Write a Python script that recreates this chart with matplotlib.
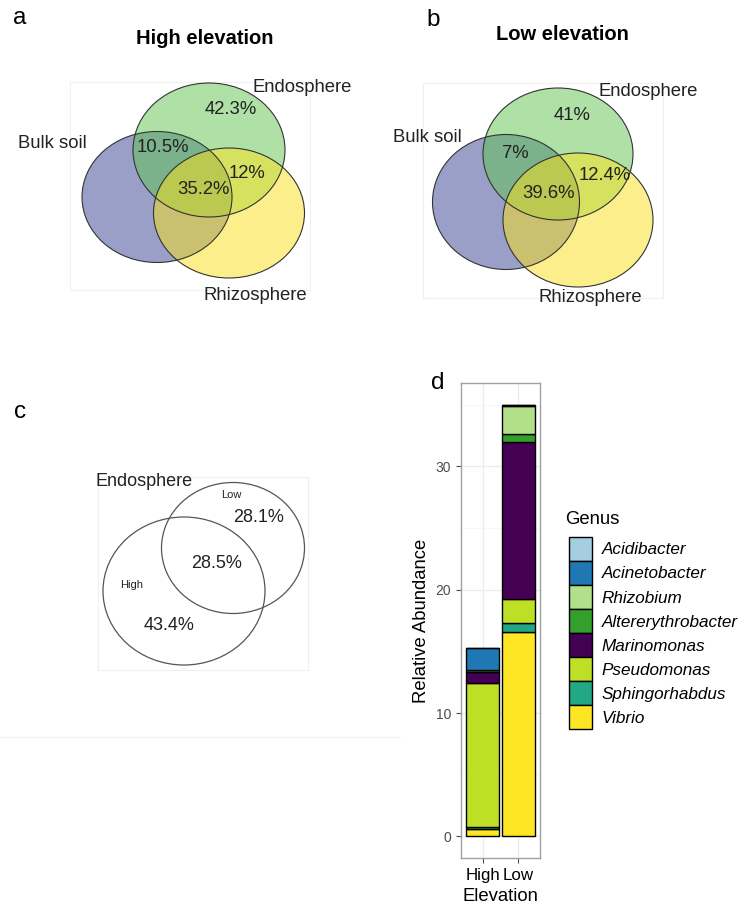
import matplotlib.pyplot as plt
from matplotlib.patches import Ellipse, Rectangle, Patch
from matplotlib.colors import to_rgba

plt.rcParams['font.family'] = ['Liberation Sans', 'DejaVu Sans']

# ---- venn data (a, b) ----
venn_sets = ['Bulk soil', 'Endosphere', 'Rhizosphere']
venn_colors = ['#354191', '#61c551', '#fbe119']
# order: endosphere only, bulk∩endo, endo∩rhizo, all three
high_pct = ['42.3%', '10.5%', '12%', '35.2%']
low_pct = ['41%', '7%', '12.4%', '39.6%']

# ---- venn data (c) ----
endo_groups = ['High', 'Low']
endo_pct = ['43.4%', '28.5%', '28.1%']  # high only, shared, low only

# ---- bar data (d) ----
elevation = ['High', 'Low']
genus = ['Acidibacter', 'Acinetobacter', 'Rhizobium', 'Altererythrobacter',
         'Marinomonas', 'Pseudomonas', 'Sphingorhabdus', 'Vibrio']
genus_colors = ['#a6cee3', '#1f78b4', '#b2df8a', '#33a02c',
                '#440154', '#bddf26', '#22a884', '#fde725']
abund_high = [0.0, 1.8, 0.0, 0.15, 0.85, 11.65, 0.2, 0.6]
abund_low = [0.04, 0.06, 2.26, 0.68, 12.75, 1.95, 0.7, 16.56]

fig = plt.figure(figsize=(7.49, 9.11), dpi=100)

# canvas axes in pixel coordinates for the venn panels
cv = fig.add_axes([0, 0, 1, 1])
cv.set_xlim(0, 749)
cv.set_ylim(911, 0)
cv.axis('off')


def venn3(centers, sizes, pcts, pct_xy, lab_xy, title, title_xy, box):
    cv.add_patch(Rectangle((box[0], box[1]), box[2], box[3], fill=False,
                           edgecolor='#f0f0f0', lw=0.8))
    for (cx, cy), (w, h), col in zip(centers, sizes, venn_colors):
        cv.add_patch(Ellipse((cx, cy), w, h, facecolor=to_rgba(col, 0.5),
                             edgecolor='none'))
    for (cx, cy), (w, h) in zip(centers, sizes):
        cv.add_patch(Ellipse((cx, cy), w, h, fill=False,
                             edgecolor='#333333', lw=0.8))
    for p, (x, y) in zip(pcts, pct_xy):
        cv.text(x, y, p, fontsize=13.3, ha='center', va='center', color='#222222')
    for s, (x, y) in zip(venn_sets, lab_xy):
        cv.text(x, y, s, fontsize=13.3, ha='center', va='center', color='#222222')
    cv.text(title_xy[0], title_xy[1], title, fontsize=14.5, fontweight='bold',
            ha='center', va='center')


# panel a
venn3([(157, 197), (209, 150), (229, 213)],
      [(150, 131), (152, 134), (151, 130)],
      high_pct,
      [(231, 110), (163, 147), (247, 173), (203, 189)],
      [(52, 143), (302, 87), (255, 295)],
      'High elevation', (205, 38), (70, 82, 240, 208))

# panel b
venn3([(506, 202), (558, 154), (578, 220)],
      [(147, 135), (150, 132), (150, 134)],
      low_pct,
      [(572, 115), (515, 153), (605, 175), (548, 193)],
      [(427, 137), (648, 92), (590, 298)],
      'Low elevation', (562, 35), (423, 83, 240, 215))

# panel c
cv.add_patch(Rectangle((98, 477), 210, 193, fill=False, edgecolor='#f0f0f0', lw=0.8))
cv.add_patch(Ellipse((184, 591), 162, 148, fill=False, edgecolor='#555555', lw=0.9))
cv.add_patch(Ellipse((233, 548), 143, 131, fill=False, edgecolor='#555555', lw=0.9))
cv.text(144, 481, 'Endosphere', fontsize=13, ha='center', va='center', color='#222222')
cv.text(132, 585, endo_groups[0], fontsize=8, ha='center', va='center', color='#222222')
cv.text(231, 495, endo_groups[1], fontsize=8, ha='center', va='center', color='#222222')
for p, (x, y) in zip(endo_pct, [(169, 625), (217, 563), (259, 517)]):
    cv.text(x, y, p, fontsize=13, ha='center', va='center', color='#222222')
cv.plot([0, 400], [737, 737], color='#f2f2f2', lw=0.8)

# panel letters
for lab, (x, y) in zip(['a', 'b', 'c', 'd'], [(20, 18), (433, 20), (20, 412), (438, 383)]):
    cv.text(x, y, lab, fontsize=17.5, ha='center', va='center')

# ---- panel d: stacked bars ----
ax = fig.add_axes([461 / 749, 53 / 911, 79 / 749, 475 / 911])
bottoms = [0.0, 0.0]
for g, c, vh, vl in reversed(list(zip(genus, genus_colors, abund_high, abund_low))):
    vals = [vh, vl]
    ax.bar([0, 1], vals, width=0.9, bottom=bottoms, color=c, edgecolor='black',
           linewidth=1.0, zorder=3)
    bottoms = [b + v for b, v in zip(bottoms, vals)]

ax.set_xlim(-0.6, 1.6)
ax.set_ylim(-1.75, 36.75)
ax.set_xticks([0, 1])
ax.set_xticklabels(elevation, fontsize=12.2)
ax.set_yticks([0, 10, 20, 30])
ax.set_yticks([5, 15, 25, 35], minor=True)
ax.tick_params(axis='y', labelsize=10, labelcolor='#4d4d4d', color='#4d4d4d', length=3.5)
ax.tick_params(axis='y', which='minor', length=0)
ax.tick_params(axis='x', color='#4d4d4d', length=3.5, pad=3.5)
ax.grid(True, which='major', color='#ebebeb', lw=0.9, zorder=0)
ax.grid(True, which='minor', axis='y', color='#f4f4f4', lw=0.5, zorder=0)
ax.set_axisbelow(True)
for s in ax.spines.values():
    s.set_color('#a0a0a0')
    s.set_linewidth(1.0)
ax.set_xlabel('Elevation', fontsize=13.3, labelpad=4)
ax.set_ylabel('Relative Abundance', fontsize=13.3, labelpad=4)

# legend for genus
fig.text(565 / 749, 1 - 519 / 911, 'Genus', fontsize=13.3, ha='left', va='center')
handles = [Patch(facecolor=c, edgecolor='black', linewidth=1.0) for c in genus_colors]
leg = fig.legend(handles, genus, loc='upper left', bbox_to_anchor=(569 / 749, 1 - 537 / 911),
                 frameon=False, fontsize=12.3,
                 handlelength=1.35, handleheight=1.76, labelspacing=0.02,
                 handletextpad=0.55, borderpad=0, borderaxespad=0)
for t in leg.get_texts():
    t.set_fontstyle('italic')

fig.savefig('out.png', dpi=100, facecolor='white')
